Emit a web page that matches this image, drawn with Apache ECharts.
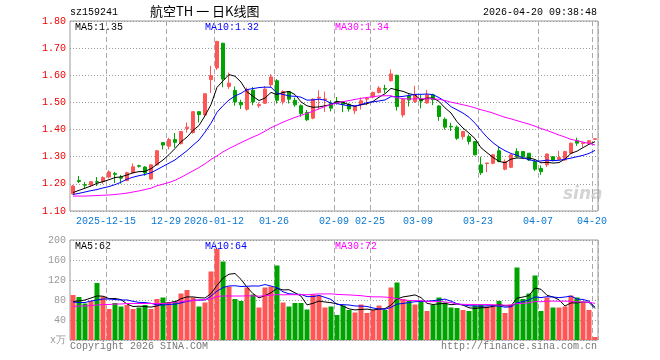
<!DOCTYPE html>
<html><head><meta charset="utf-8">
<script src="https://cdn.jsdelivr.net/npm/echarts@6/dist/echarts.min.js"></script>
<style>html,body{margin:0;padding:0;background:#fff}#c{width:660px;height:360px}</style>
</head><body><div id="c"></div>
<script>
const dates = [
'2025-12-05','2025-12-08','2025-12-09','2025-12-10','2025-12-11','2025-12-12',
'2025-12-15','2025-12-16','2025-12-17','2025-12-18','2025-12-19',
'2025-12-22','2025-12-23','2025-12-24','2025-12-25','2025-12-26',
'2025-12-29','2025-12-30','2025-12-31',
'2026-01-05','2026-01-06','2026-01-07','2026-01-08','2026-01-09',
'2026-01-12','2026-01-13','2026-01-14','2026-01-15','2026-01-16',
'2026-01-19','2026-01-20','2026-01-21','2026-01-22','2026-01-23',
'2026-01-26','2026-01-27','2026-01-28','2026-01-29','2026-01-30',
'2026-02-02','2026-02-03','2026-02-04','2026-02-05','2026-02-06',
'2026-02-09','2026-02-10','2026-02-11','2026-02-12','2026-02-13',
'2026-02-24','2026-02-25','2026-02-26','2026-02-27',
'2026-03-02','2026-03-03','2026-03-04','2026-03-05','2026-03-06',
'2026-03-09','2026-03-10','2026-03-11','2026-03-12','2026-03-13',
'2026-03-16','2026-03-17','2026-03-18','2026-03-19','2026-03-20',
'2026-03-23','2026-03-24','2026-03-25','2026-03-26','2026-03-27',
'2026-03-30','2026-03-31','2026-04-01','2026-04-02','2026-04-03',
'2026-04-07','2026-04-08','2026-04-09','2026-04-10',
'2026-04-13','2026-04-14','2026-04-15','2026-04-16','2026-04-17',
'2026-04-20'];

const tickDates  = ['2025-12-15','2025-12-29','2026-01-12','2026-01-26','2026-02-09','2026-02-25','2026-03-09','2026-03-23','2026-04-07','2026-04-20'];
const tickLabels = ['2025-12-15','12-29','2026-01-12','01-26','02-09','02-25','03-09','03-23','04-07','04-20'];

const openP = [1.163,1.212,1.197,1.196,1.208,1.208,1.225,1.238,1.224,1.212,
1.241,1.267,1.262,1.218,1.270,1.352,1.339,1.363,1.348,1.404,
1.389,1.466,1.454,1.584,1.627,1.718,1.559,1.544,1.500,1.475,
1.545,1.488,1.497,1.565,1.580,1.503,1.540,1.508,1.488,1.463,
1.442,1.516,1.510,1.496,1.503,1.503,1.493,1.469,1.491,1.512,
1.520,1.537,1.551,1.580,1.600,1.454,1.524,1.503,1.513,1.498,
1.528,1.487,1.438,1.412,1.409,1.374,1.374,1.356,1.270,1.275,
1.276,1.322,1.254,1.261,1.319,1.319,1.313,1.282,1.257,1.270,
1.300,1.290,1.288,1.313,1.359,1.349,1.350,1.364];
const closeP = [1.192,1.209,1.195,1.208,1.206,1.223,1.244,1.235,1.221,1.241,
1.263,1.265,1.240,1.270,1.322,1.343,1.363,1.353,1.393,1.409,
1.466,1.455,1.532,1.599,1.725,1.586,1.571,1.502,1.491,1.547,
1.502,1.492,1.549,1.594,1.508,1.540,1.512,1.491,1.459,1.436,
1.512,1.519,1.513,1.479,1.497,1.493,1.476,1.485,1.506,1.515,
1.537,1.553,1.549,1.605,1.485,1.512,1.509,1.528,1.505,1.528,
1.510,1.448,1.409,1.410,1.368,1.393,1.356,1.307,1.241,1.277,
1.307,1.282,1.282,1.307,1.300,1.300,1.288,1.254,1.245,1.310,
1.286,1.297,1.319,1.350,1.350,1.351,1.359,1.366];
const highP = [1.196,1.229,1.207,1.210,1.225,1.228,1.250,1.244,1.233,1.245,
1.275,1.270,1.265,1.272,1.325,1.353,1.370,1.387,1.395,1.426,
1.467,1.468,1.533,1.635,1.725,1.720,1.610,1.559,1.510,1.555,
1.557,1.500,1.560,1.604,1.586,1.545,1.542,1.518,1.493,1.472,
1.515,1.545,1.540,1.508,1.520,1.505,1.497,1.487,1.518,1.520,
1.540,1.560,1.565,1.622,1.602,1.515,1.530,1.561,1.528,1.546,
1.532,1.490,1.445,1.425,1.415,1.393,1.382,1.358,1.300,1.277,
1.310,1.338,1.290,1.309,1.331,1.320,1.313,1.290,1.268,1.312,
1.302,1.322,1.322,1.352,1.370,1.353,1.361,1.368];
const lowP = [1.160,1.203,1.183,1.190,1.192,1.200,1.220,1.203,1.201,1.210,
1.238,1.260,1.230,1.215,1.268,1.327,1.327,1.333,1.345,1.389,
1.385,1.426,1.447,1.535,1.620,1.556,1.550,1.488,1.476,1.470,
1.490,1.480,1.494,1.555,1.496,1.492,1.496,1.484,1.447,1.432,
1.438,1.475,1.465,1.467,1.492,1.464,1.466,1.457,1.474,1.490,
1.515,1.533,1.535,1.577,1.470,1.445,1.485,1.498,1.478,1.495,
1.490,1.432,1.400,1.395,1.362,1.363,1.345,1.305,1.233,1.243,
1.272,1.280,1.250,1.258,1.296,1.296,1.284,1.247,1.233,1.262,
1.283,1.288,1.286,1.310,1.340,1.335,1.349,1.362];
const volume = [90,86,73,78,114,87,62,74,67,70,
62,65,70,62,82,85,75,78,93,100,
85,67,75,137,182,157,107,82,78,105,
91,65,105,107,149,75,67,74,74,61,
91,89,65,67,50,69,60,55,71,54,
60,69,60,105,115,82,78,71,78,58,
70,85,75,65,64,60,58,69,71,67,
71,78,54,71,145,82,93,129,58,85,
65,65,67,89,85,75,60,6];

// moving-average values for the days before each window fills
const ma5Head  = [1.168,1.176,1.184,1.192];
const ma10Head = [1.161,1.165,1.170,1.175,1.179,1.185,1.190,1.197,1.206];
const ma30Head = [1.155,1.155,1.155,1.156,1.157,1.158,1.159,1.161,1.163,1.166,
1.170,1.174,1.179,1.184,1.193,1.199,1.205,1.213,1.224,1.236,
1.248,1.260,1.274,1.290,1.303,1.318,1.330,1.341,1.352];
const vma5Head  = [77,78,80,84];
const vma10Head = [76,75,75,78,80,82,82,81,80];
const vma30Head = [67,68,68,69,70,71,71,72,72,73,73,73,73,73,73,73,74,75,77,78,79,80,81,82,87,88,88,88,88];

const legendMain = ['MA5:1.35','MA10:1.32','MA30:1.34'];
const legendVol  = ['MA5:62','MA10:64','MA30:72'];

function ma(arr, n, head){
  return arr.map((v,i)=>{
    if(i < n-1) return head[i];
    let s=0; for(let k=i-n+1;k<=i;k++) s+=arr[k];
    return +(s/n).toFixed(4);
  });
}

const UP='#ff5555', DOWN='#00a400';
const MONO='"Liberation Mono","DejaVu Sans Mono",monospace';
const tickIdx = tickDates.map(d=>dates.indexOf(d));
const showTick = (i)=>tickIdx.indexOf(i)>=0;

const chart = echarts.init(document.getElementById('c'), null, {renderer:'canvas'});
const gridLine = {show:true, interval:(i)=>showTick(i), lineStyle:{color:'#aaa', type:[5,3], width:1}};
const option = {
  animation:false,
  backgroundColor:'#fff',
  grid:[
    {left:70, top:21, width:528, height:190, show:true, borderColor:'#999', borderWidth:1, backgroundColor:'transparent'},
    {left:70, top:240, width:528, height:100, show:true, borderColor:'#999', borderWidth:1, backgroundColor:'transparent'}
  ],
  xAxis:[
    {type:'category', gridIndex:0, data:dates, boundaryGap:true,
     axisLine:{show:false}, axisTick:{show:false},
     axisLabel:{show:true, interval:(i)=>showTick(i), color:'#0a78d2', fontFamily:MONO, fontSize:10, margin:5,
       padding:[0,6,0,0], formatter:(v)=>tickLabels[tickDates.indexOf(v)]||''},
     splitLine:gridLine},
    {type:'category', gridIndex:1, data:dates, boundaryGap:true,
     axisLine:{show:false}, axisTick:{show:false}, axisLabel:{show:false},
     splitLine:gridLine}
  ],
  yAxis:[
    {type:'value', gridIndex:0, min:1.1, max:1.8, interval:0.1, scale:true,
     axisLine:{show:false}, axisTick:{show:false},
     axisLabel:{color:'#ee0000', fontFamily:MONO, fontSize:10, margin:4, formatter:(v)=>v.toFixed(2)},
     splitLine:{show:true, lineStyle:{color:'#999', type:[1,2]}}},
    {type:'value', gridIndex:1, min:0, max:200, interval:40,
     axisLine:{show:false}, axisTick:{show:false},
     axisLabel:{color:'#999', fontFamily:MONO, fontSize:10, margin:4, formatter:(v)=>v===0?'x万':String(v)},
     splitLine:{show:true, lineStyle:{color:'#999', type:[1,2]}}}
  ],
  series:[
    {type:'candlestick', xAxisIndex:0, yAxisIndex:0, barWidth:4,
     data:dates.map((d,i)=>[openP[i], closeP[i], lowP[i], highP[i]]),
     itemStyle:{color:UP, color0:DOWN, borderColor:UP, borderColor0:DOWN, borderWidth:1}},
    {type:'line', xAxisIndex:0, yAxisIndex:0, data:ma(closeP,5,ma5Head), symbol:'none', lineStyle:{color:'#000', width:1}},
    {type:'line', xAxisIndex:0, yAxisIndex:0, data:ma(closeP,10,ma10Head), symbol:'none', lineStyle:{color:'#0000ff', width:1}},
    {type:'line', xAxisIndex:0, yAxisIndex:0, data:ma(closeP,30,ma30Head), symbol:'none', lineStyle:{color:'#ff00ff', width:1}},
    {type:'bar', xAxisIndex:1, yAxisIndex:1, barWidth:5,
     data:volume.map((v,i)=>({value:v, itemStyle:{color: closeP[i]>=openP[i]?UP:DOWN}}))},
    {type:'line', xAxisIndex:1, yAxisIndex:1, data:ma(volume,5,vma5Head), symbol:'none', lineStyle:{color:'#000', width:1}},
    {type:'line', xAxisIndex:1, yAxisIndex:1, data:ma(volume,10,vma10Head), symbol:'none', lineStyle:{color:'#0000ff', width:1}},
    {type:'line', xAxisIndex:1, yAxisIndex:1, data:ma(volume,30,vma30Head), symbol:'none', lineStyle:{color:'#ff00ff', width:1}}
  ],
  graphic:[
    {type:'text', left:70, top:7, style:{text:'sz159241', font:'10px '+MONO, fill:'#000'}},
    {type:'text', left:150, top:5, style:{text:'航空TH 一 日K线图', font:'13px "Noto Sans CJK SC"', fill:'#000'}},
    {type:'text', right:63, top:7, style:{text:'2026-04-20 09:38:48', font:'10px '+MONO, fill:'#000'}},
    {type:'text', left:75, top:22, style:{text:legendMain[0], font:'10px '+MONO, fill:'#000'}},
    {type:'text', left:205, top:22, style:{text:legendMain[1], font:'10px '+MONO, fill:'#0000ff'}},
    {type:'text', left:335, top:22, style:{text:legendMain[2], font:'10px '+MONO, fill:'#ff00ff'}},
    {type:'text', left:75, top:241, style:{text:legendVol[0], font:'10px '+MONO, fill:'#000'}},
    {type:'text', left:205, top:241, style:{text:legendVol[1], font:'10px '+MONO, fill:'#0000ff'}},
    {type:'text', left:335, top:241, style:{text:legendVol[2], font:'10px '+MONO, fill:'#ff00ff'}},
    {type:'text', left:70, top:341, style:{text:'Copyright 2026 SINA.COM', font:'10px '+MONO, fill:'#777'}},
    {type:'text', right:63, top:341, style:{text:'http://finance.sina.com.cn', font:'10px '+MONO, fill:'#777'}},
    {type:'text', left:563, top:186, z:-1, style:{text:'sina', font:'italic bold 17px "DejaVu Sans"', fill:'#d4d4d4'}}
  ]
};
chart.setOption(option);
</script></body></html>
